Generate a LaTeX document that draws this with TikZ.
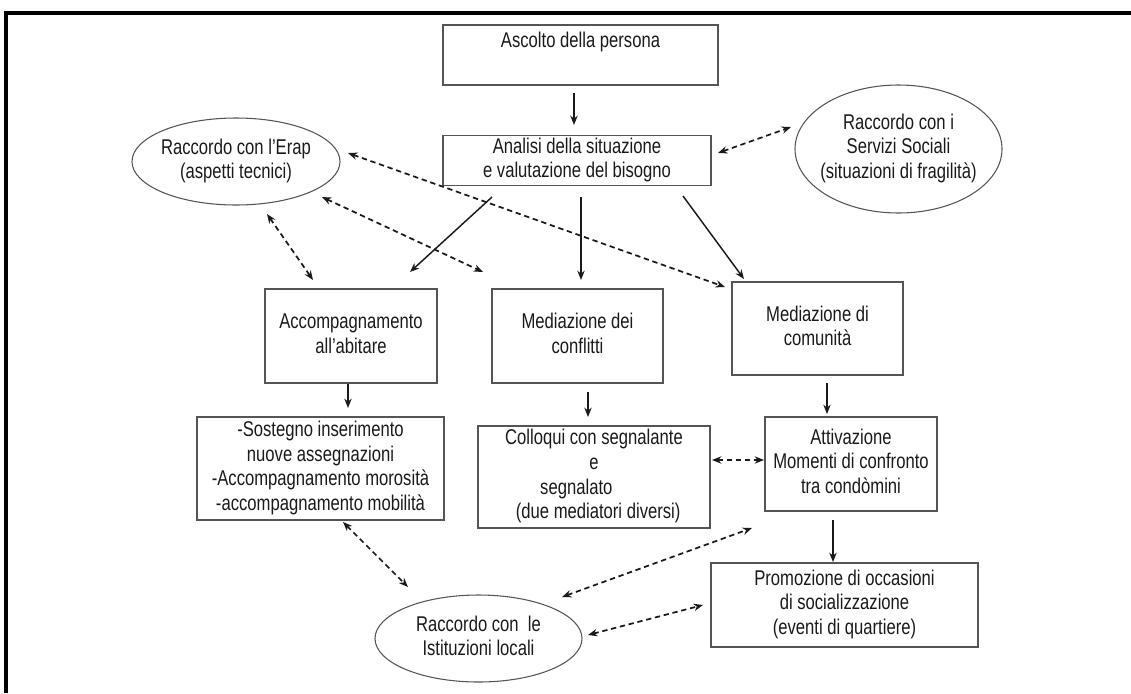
\documentclass[tikz,border=0pt]{standalone}
\usepackage{fontspec}
\usepackage{graphicx}
\setmainfont{Liberation Sans}
\usetikzlibrary{arrows.meta,shapes.geometric}
\definecolor{boxline}{HTML}{555555}
\definecolor{ink}{HTML}{1A1A1A}
\newcommand{\nlines}[1]{\scalebox{0.78}[1]{\begin{tabular}{@{}c@{}}#1\end{tabular}}}
\tikzset{
  every node/.style={font=\fontsize{16}{18.5}\selectfont, text=ink},
  rbox/.style={draw=boxline, line width=0.8pt, rectangle, inner sep=0pt},
  obox/.style={draw=boxline, line width=0.8pt, ellipse, inner xsep=-6pt, inner ysep=0pt},
  solidarrow/.style={draw=ink, line width=1.1pt, -{Stealth[length=7pt,width=5.5pt]}},
  dasharrow/.style={draw=ink, line width=1.3pt, dash pattern=on 4pt off 2.8pt,
    {Stealth[length=7pt,width=5.5pt]}-{Stealth[length=7pt,width=5.5pt]}},
  frameline/.style={draw=black, line width=2.4pt}
}
\begin{document}
\begin{tikzpicture}[x=0.75pt,y=-0.75pt]
\useasboundingbox (0,0) rectangle (1131,693);
% frame
\draw[frameline] (1131,13) -- (6,13) -- (6,693);

% boxes
\node[rbox, minimum width=206.25pt, minimum height=45pt] (ascolto) at (580.5,55)
  {\nlines{Ascolto della persona\\ \mbox{}}};
\node[rbox, minimum width=201pt, minimum height=36.75pt] (analisi) at (577,160.5)
  {\nlines{Analisi della situazione\\e valutazione del bisogno}};
\node[rbox, minimum width=129pt, minimum height=70.5pt] (accomp) at (351,336)
  {\nlines{Accompagnamento\\all’abitare}};
\node[rbox, minimum width=128.25pt, minimum height=70.5pt] (medconf) at (577.5,336)
  {\nlines{Mediazione dei\\conflitti}};
\node[rbox, minimum width=128.25pt, minimum height=69.75pt] (medcom) at (817.5,328.5)
  {\nlines{Mediazione di\\comunità}};
\node[rbox, minimum width=185.25pt, minimum height=77.25pt] (sostegno) at (320.5,468.5)
  {\nlines{-Sostegno inserimento\\nuove assegnazioni\\-Accompagnamento morosità\\-accompagnamento mobilità}};
\node[rbox, minimum width=174pt, minimum height=76.5pt] (colloqui) at (594,477)
  {\nlines{Colloqui con segnalante\\e\\\hspace*{-34pt}segnalato\\\hspace*{8pt}(due mediatori diversi)}};
\node[rbox, minimum width=129pt, minimum height=70.5pt] (attiv) at (851,464)
  {\nlines{Attivazione\\Momenti di confronto\\tra condòmini}};
\node[rbox, minimum width=200.25pt, minimum height=63pt] (promo) at (844.5,605)
  {\nlines{Promozione di occasioni\\di socializzazione\\(eventi di quartiere)}};

% ellipses
\node[obox, minimum width=156pt, minimum height=65.25pt] (erap) at (236,161.5)
  {\nlines{Raccordo con l’Erap\\(aspetti tecnici)}};
\node[obox, minimum width=155.25pt, minimum height=96pt] (servizi) at (898.5,149)
  {\nlines{Raccordo con i\\Servizi Sociali\\(situazioni di fragilità)}};
\node[obox, minimum width=155.25pt, minimum height=65.25pt] (istit) at (478.5,638.5)
  {\nlines{Raccordo con\ \ le\\Istituzioni locali}};

% connector end points
\coordinate (ascolto-o) at (574,93);   \coordinate (analisi-i) at (574,125);
\coordinate (analisi-o1) at (492,197); \coordinate (accomp-i) at (410,272);
\coordinate (analisi-o2) at (581,197); \coordinate (medconf-i) at (581,280);
\coordinate (analisi-o3) at (683,196); \coordinate (medcom-i) at (744,279);
\coordinate (accomp-o) at (348,384);   \coordinate (sostegno-i) at (348,408);
\coordinate (medconf-o) at (588,392);  \coordinate (colloqui-i) at (588,417);
\coordinate (medcom-o) at (827,383);   \coordinate (attiv-i) at (827,414);
\coordinate (attiv-o) at (833,520);    \coordinate (promo-i) at (833,562);

\coordinate (analisi-e) at (718,153);  \coordinate (servizi-w) at (791,127);
\coordinate (erap-e1) at (348,153);    \coordinate (medcom-nw) at (725,287);
\coordinate (erap-e2) at (322,197);    \coordinate (medconf-nw) at (483,272);
\coordinate (erap-s) at (267,214);     \coordinate (accomp-nw) at (313,280);
\coordinate (colloqui-e) at (712,460); \coordinate (attiv-w) at (764,460);
\coordinate (sostegno-s) at (343,522); \coordinate (istit-nw) at (408,587);
\coordinate (istit-ne) at (562,597);   \coordinate (attiv-sw) at (752,528);
\coordinate (istit-e) at (588,635);    \coordinate (promo-w) at (703,605);

% solid arrows
\draw[solidarrow] (ascolto-o) -- (analisi-i);
\draw[solidarrow] (analisi-o1) -- (accomp-i);
\draw[solidarrow] (analisi-o2) -- (medconf-i);
\draw[solidarrow] (analisi-o3) -- (medcom-i);
\draw[solidarrow] (accomp-o) -- (sostegno-i);
\draw[solidarrow] (medconf-o) -- (colloqui-i);
\draw[solidarrow] (medcom-o) -- (attiv-i);
\draw[solidarrow] (attiv-o) -- (promo-i);

% dashed double arrows
\draw[dasharrow] (analisi-e) -- (servizi-w);
\draw[dasharrow] (erap-e1) -- (medcom-nw);
\draw[dasharrow] (erap-e2) -- (medconf-nw);
\draw[dasharrow] (erap-s) -- (accomp-nw);
\draw[dasharrow] (colloqui-e) -- (attiv-w);
\draw[dasharrow] (sostegno-s) -- (istit-nw);
\draw[dasharrow] (istit-ne) -- (attiv-sw);
\draw[dasharrow] (istit-e) -- (promo-w);
\end{tikzpicture}
\end{document}
